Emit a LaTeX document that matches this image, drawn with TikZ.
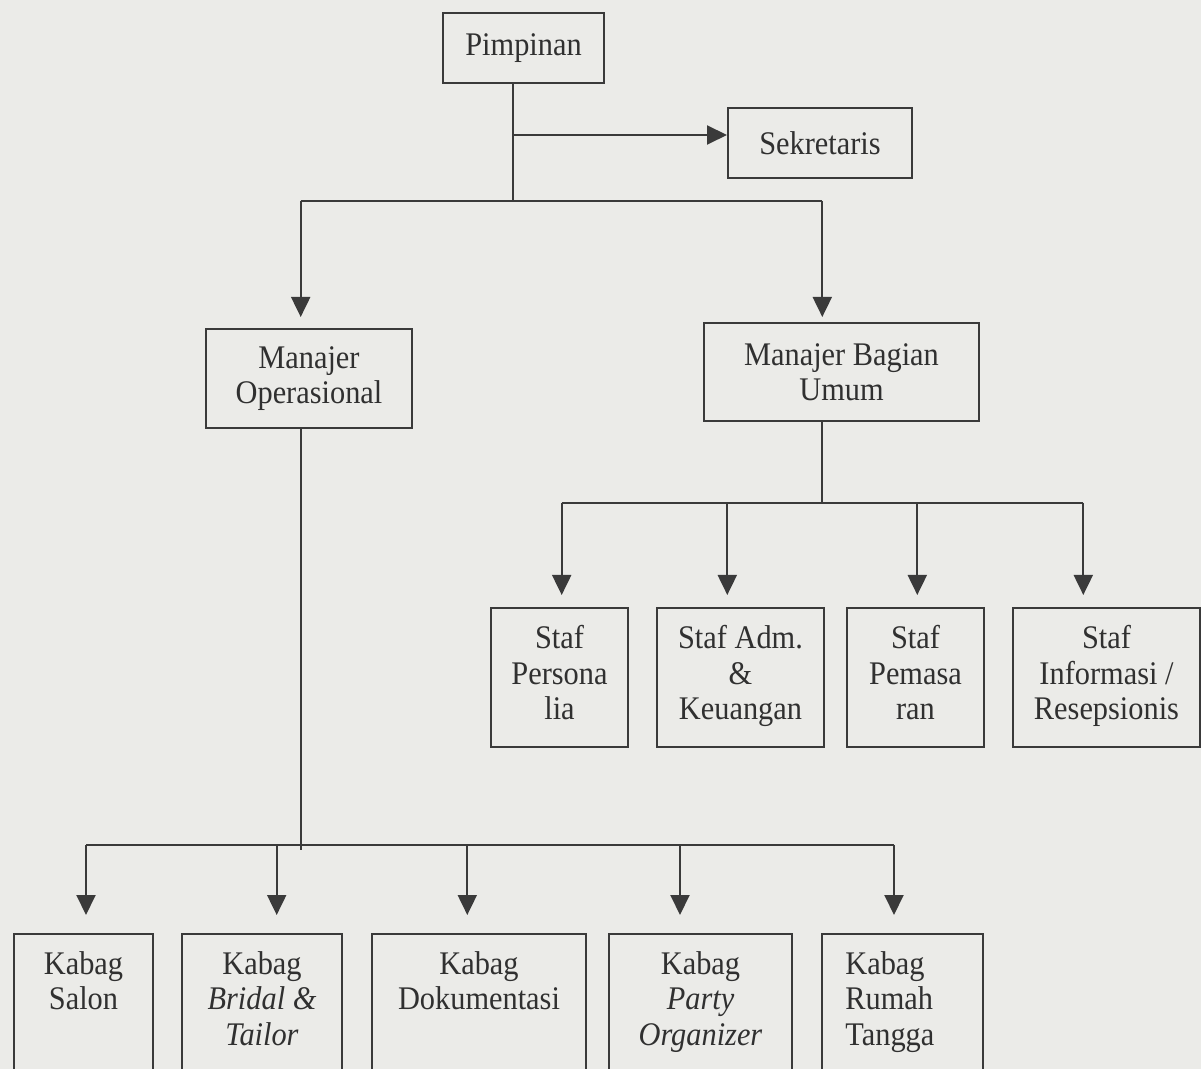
\documentclass[tikz,border=0pt]{standalone}
\usepackage{fontspec}
\setmainfont{Liberation Serif}[FakeStretch=0.92]
\usetikzlibrary{arrows.meta}
\definecolor{paper}{RGB}{235,235,232}
\definecolor{ink}{RGB}{58,58,58}
\definecolor{txt}{RGB}{48,48,48}
\newcommand{\orgfont}{\fontsize{16.5pt}{17.75pt}\selectfont}

\begin{document}
\begin{tikzpicture}[x=0.5pt,y=-0.5pt,
  unit/.style={draw=ink, line width=1pt, inner sep=0pt, anchor=north west,
    align=center, text=txt, font=\orgfont},
  kab/.style={anchor=north, yshift=-9pt, inner sep=0pt, align=center,
    text=txt, font=\orgfont},
  kableft/.style={anchor=north west, xshift=12pt, yshift=-9pt, inner sep=0pt,
    align=left, text=txt, font=\orgfont},
  link/.style={draw=ink, line width=1pt},
  arr/.style={link, -{Triangle[width=9.5pt,length=10pt]}}]

\useasboundingbox (0,0) rectangle (1201,1069);
\clip (0,0) rectangle (1201,1069);
\fill[paper] (0,0) rectangle (1201,1069);

% top level
\node[unit, minimum width=80.5pt, minimum height=35pt] (pim) at (442,12) {Pimpinan};
\node[unit, minimum width=92pt, minimum height=35pt] (sek) at (727,107) {Sekretaris};

% managers
\node[unit, minimum width=103pt, minimum height=49.5pt] (mo) at (205,328) {Manajer\\Operasional};
\node[unit, minimum width=137.5pt, minimum height=49pt] (mbu) at (703,322) {Manajer Bagian\\Umum};

% staff under Manajer Bagian Umum
\node[unit, minimum width=68.5pt, minimum height=69.5pt] (sp) at (490,607) {Staf\\Persona\\lia\\[-12.75pt]};
\node[unit, minimum width=83.5pt, minimum height=69.5pt] (sa) at (656,607) {Staf Adm.\\\&\\Keuangan\\[-12.75pt]};
\node[unit, minimum width=68.5pt, minimum height=69.5pt] (spm) at (846,607) {Staf\\Pemasa\\ran\\[-12.75pt]};
\node[unit, minimum width=93.5pt, minimum height=69.5pt] (si) at (1012,607) {Staf\\Informasi /\\Resepsionis\\[-12.75pt]};

% heads of section under Manajer Operasional
\node[unit, minimum width=69.5pt, minimum height=80pt,
  label={[kab]north:Kabag\\Salon}] (ks) at (13,933) {};
\node[unit, minimum width=80pt, minimum height=80pt,
  label={[kab]north:Kabag\\\textit{Bridal \&}\\\textit{Tailor}}] (kb) at (181,933) {};
\node[unit, minimum width=107pt, minimum height=80pt,
  label={[kab]north:Kabag\\Dokumentasi}] (kd) at (371,933) {};
\node[unit, minimum width=91.5pt, minimum height=80pt,
  label={[kab]north:Kabag\\\textit{Party}\\\textit{Organizer}}] (kp) at (608,933) {};
\node[unit, minimum width=80.5pt, minimum height=80pt,
  label={[kableft]north west:Kabag\\Rumah\\Tangga}] (kr) at (821,933) {};

% Pimpinan -> Sekretaris and the two managers
\coordinate (j0) at (513,201);
\coordinate (js) at (513,135);
\draw[link] (pim.south -| j0) -- (j0);
\draw[arr] (js) -- (js -| sek.west);
\coordinate (tl) at (300.7,201);
\coordinate (tr) at (822.3,201);
\draw[link] (tl) -- (tr);
\draw[arr, shorten >=5.5pt] (tl) -- (tl |- mo.north);
\draw[arr, shorten >=2.5pt] (tr) -- (tr |- mbu.north);

% Manajer Bagian Umum -> staff
\coordinate (mb) at (822.3,502.7);
\coordinate (s1) at (561.7,502.7);
\coordinate (s2) at (727.3,502.7);
\coordinate (s3) at (917.3,502.7);
\coordinate (s4) at (1083.3,502.7);
\draw[link] (mbu.south -| mb) -- (mb);
\draw[link] (s1) -- (s4);
\foreach \c/\n in {s1/sp, s2/sa, s3/spm, s4/si}
  \draw[arr, shorten >=6pt] (\c) -- (\c |- \n.north);

% Manajer Operasional -> heads of section
\coordinate (mo2) at (300.7,845);
\coordinate (k1) at (86,845);
\coordinate (k2) at (276.7,845);
\coordinate (k3) at (467.3,845);
\coordinate (k4) at (680,845);
\coordinate (k5) at (894,845);
\draw[link] (mo.south -| mo2) -- ([yshift=-2.5pt]mo2);
\draw[link] (k1) -- (k5);
\foreach \c/\n in {k1/ks, k2/kb, k3/kd, k4/kp, k5/kr}
  \draw[arr, shorten >=9pt] (\c) -- (\c |- \n.north);
\end{tikzpicture}
\end{document}
